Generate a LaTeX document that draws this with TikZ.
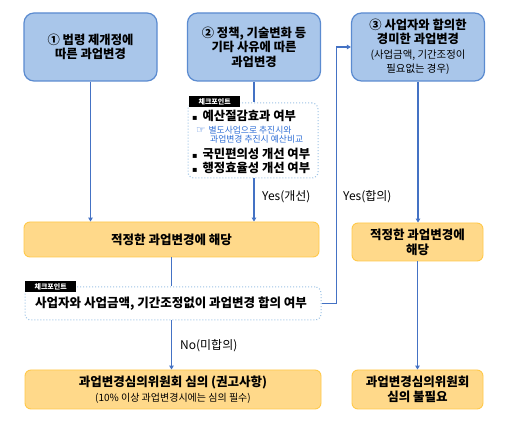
\documentclass[tikz,border=0pt]{standalone}
\usepackage{fontspec}
\setmainfont{Noto Sans CJK KR}
\newfontfamily\symfont{DejaVu Sans}
\usetikzlibrary{arrows.meta}
\definecolor{bfill}{HTML}{A9C6EA}
\definecolor{bdraw}{HTML}{5B8BD0}
\definecolor{yfill}{HTML}{FFD98A}
\definecolor{ydraw}{HTML}{FFC94A}
\definecolor{lnc}{HTML}{4472C4}
\definecolor{dotc}{HTML}{9DC3E6}
\definecolor{subblue}{HTML}{2F6FD6}
\tikzset{
  bluebox/.style={draw=bdraw, line width=1.2pt, fill=bfill, rounded corners=10pt,
    minimum width=133pt, minimum height=68pt, align=center, inner sep=2pt,
    font=\bfseries\fontsize{12.3}{14.5}\selectfont},
  ybox/.style={draw=ydraw, line width=0.9pt, fill=yfill, rounded corners=6pt,
    align=center, inner sep=2pt, font=\bfseries\fontsize{12.5}{15}\selectfont},
  cpbox/.style={draw=dotc, dotted, line width=1pt, fill=white, rounded corners=6pt, inner sep=0pt},
  cplabel/.style={fill=black, text=white, inner xsep=3pt, inner ysep=1.5pt,
    minimum height=11pt, minimum width=51pt, font=\bfseries\fontsize{7}{8}\selectfont},
  cptext/.style={anchor=west, inner sep=0pt, font=\bfseries\fontsize{12.3}{14}\selectfont},
  cpsub/.style={anchor=west, inner sep=0pt, text=subblue, font=\fontsize{8.8}{10}\selectfont},
  lbl/.style={anchor=west, inner sep=0pt, font=\fontsize{12}{13}\selectfont},
  ln/.style={draw=lnc, line width=1.3pt},
  conn/.style={ln, -{Triangle[length=4pt,width=4.5pt]}}
}
\begin{document}
\begin{tikzpicture}[x=1pt,y=-1pt]
\useasboundingbox[fill=white] (0,0) rectangle (512,427);

% top blue boxes
\node[bluebox] (b1) at (90.5,47) {① 법령 제개정에\\따른 과업변경};
\node[bluebox] (b2) at (254,47) {② 정책, 기술변화 등\\기타 사유에 따른\\과업변경};
\node[bluebox] (b3) at (418,47) {③ 사업자와 합의한\\경미한 과업변경\\{\mdseries\fontsize{10.4}{12}\selectfont (사업금액, 기간조정이}\\{\mdseries\fontsize{10.4}{12}\selectfont 필요없는 경우)}};

% checkpoint 1
\node[cpbox, minimum width=130pt, minimum height=75pt] (cp1) at (253,140.5) {};
\node[cplabel, anchor=west] (cp1l) at (189,101.5) {체크포인트};
\node[cptext] (c1a) at (192,115.5) {{\symfont\fontsize{8}{9}\selectfont ▪}\hspace{5pt}예산절감효과 여부};
\node[cpsub] (c1b) at (196,130) {{\symfont\fontsize{10.5}{11}\selectfont ☞}\hspace{3pt}별도사업으로 추진시와};
\node[cpsub] (c1c) at (210,139.5) {과업변경 추진시 예산비교};
\node[cptext] (c1d) at (192,153.5) {{\symfont\fontsize{8}{9}\selectfont ▪}\hspace{5pt}국민편의성 개선 여부};
\node[cptext] (c1e) at (192,167.5) {{\symfont\fontsize{8}{9}\selectfont ▪}\hspace{5pt}행정효율성 개선 여부};

% yellow boxes
\node[ybox, minimum width=295pt, minimum height=35pt] (y1) at (171.5,239.5) {적정한 과업변경에 해당};
\node[ybox, minimum width=131pt, minimum height=38pt] (y2) at (417.5,242) {적정한 과업변경에\\해당};

% checkpoint 2
\node[cpbox, minimum width=296pt, minimum height=33pt] (cp2) at (173,303.5) {};
\node[cplabel, anchor=west] (cp2l) at (25,287) {체크포인트};
\node[cptext, font=\bfseries\fontsize{12.5}{14}\selectfont] (c2a) at (35,304) {사업자와 사업금액, 기간조정없이 과업변경 합의 여부};

% bottom yellow boxes
\node[ybox, minimum width=296pt, minimum height=39pt] (y3) at (173,389.5)
  {과업변경심의위원회 심의 (권고사항)\\{\mdseries\fontsize{10}{11}\selectfont (10\% 이상 과업변경시에는 심의 필수)}};
\node[ybox, minimum width=131pt, minimum height=39pt] (y4) at (417.5,389.5) {과업변경심의위원회\\심의 불필요};

% connectors
\draw[conn] (b1.south) -- (b1.south |- y1.north);
\draw[ln] (b2.south) -- (b2.south |- cp1.north);
\draw[conn] (b2.south |- cp1.south) -- (b2.south |- y1.north);
\draw[conn] (b3.south) -- (b3.south |- y2.north);
\draw[ln] (y1.south) -- (y1.south |- cp2.north);
\draw[conn] (cp2.east) -- ++(15,0) |- (b3.west);
\draw[conn] (y1.south |- cp2.south) -- (y1.south |- y3.north);
\draw[conn] (y2.south) -- (y2.south |- y4.north);

% labels
\node[lbl] (l1) at (262,197) {Yes(개선)};
\node[lbl] (l2) at (343,197) {Yes(합의)};
\node[lbl] (l3) at (180,346) {No(미합의)};
\end{tikzpicture}
\end{document}
